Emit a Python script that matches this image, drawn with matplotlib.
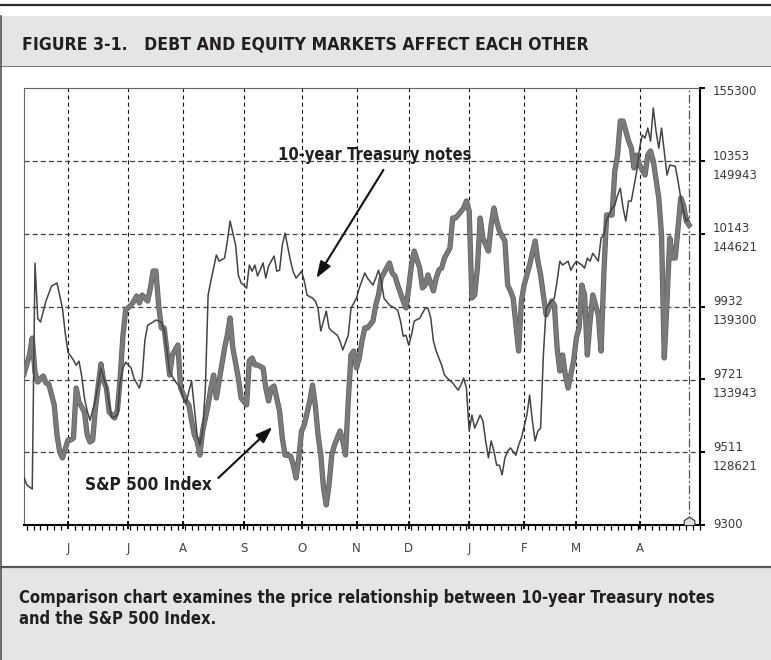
import matplotlib
matplotlib.use("Agg")
import matplotlib.pyplot as plt
import matplotlib.patheffects as pe
from matplotlib.patches import Rectangle
from matplotlib.lines import Line2D
from matplotlib.path import Path
from matplotlib.ticker import MultipleLocator

# x axis = trading days from the left edge of the chart
months = ["J", "J", "A", "S", "O", "N", "D", "J", "F", "M", "A"]
month_days = [16, 38, 58, 80, 101, 121, 140, 162, 182, 201, 224]
last_day = 242

# 10-year Treasury notes (thin line, upper number scale)
tsy_days = [0, 1, 3, 4, 5, 6, 8, 10, 12, 14, 15, 16, 18, 19, 20, 21, 22, 23, 24, 25,
            26, 28, 29, 30, 31, 32, 34, 35, 36, 37, 39, 40, 42, 43, 44, 45, 47, 48, 50, 51,
            52, 53, 55, 57, 58, 59, 60, 61, 62, 63, 64, 65, 66, 67, 68, 70, 71, 73, 74, 75,
            77, 78, 79, 80, 81, 82, 83, 84, 85, 87, 88, 89, 91, 92, 93, 94, 95, 97, 98, 99,
            101, 102, 103, 105, 106, 107, 108, 110, 111, 112, 114, 115, 116, 118, 119, 121, 122, 124, 125, 127,
            128, 129, 130, 131, 133, 135, 136, 137, 138, 139, 140, 141, 142, 144, 146, 147, 148, 149, 150, 152,
            153, 154, 156, 158, 159, 160, 161, 162, 163, 164, 166, 167, 168, 169, 170, 171, 172, 173, 174, 175,
            176, 177, 179, 180, 181, 183, 184, 185, 186, 187, 188, 189, 190, 192, 193, 194, 195, 196, 198, 199,
            200, 201, 203, 204, 205, 206, 207, 209, 210, 211, 212, 214, 215, 216, 217, 218, 219, 220, 221, 223,
            224, 225, 226, 227, 228, 229, 230, 231, 232, 234, 235, 237, 238, 239, 240, 241, 242]
tsy_vals = [9439, 9416, 9404, 10057, 9898, 9887, 9948, 9991, 10000, 9927, 9855, 9800, 9777, 9762, 9774, 9731, 9667, 9630, 9603, 9632,
            9661, 9754, 9725, 9699, 9647, 9609, 9618, 9713, 9754, 9771, 9754, 9725, 9696, 9728, 9835, 9878, 9887, 9893, 9887, 9864,
            9806, 9742, 9716, 9696, 9667, 9653, 9687, 9716, 9638, 9560, 9531, 9572, 9696, 9965, 10006, 10081, 10063, 10072, 10121, 10179,
            10110, 10023, 10000, 9994, 9985, 10052, 10034, 10052, 10020, 10058, 10014, 10049, 10078, 10034, 10037, 10110, 10144, 10063, 10032, 10014,
            10034, 10006, 9965, 9956, 9948, 9927, 9861, 9919, 9870, 9861, 9849, 9832, 9806, 9849, 9927, 9956, 9985, 10029, 10014, 9994,
            10014, 10037, 10006, 9956, 9936, 9927, 9921, 9890, 9846, 9849, 9820, 9849, 9890, 9898, 9927, 9927, 9900, 9832, 9803, 9762,
            9734, 9725, 9711, 9690, 9705, 9725, 9696, 9572, 9618, 9580, 9618, 9601, 9543, 9494, 9543, 9514, 9473, 9473, 9445, 9494,
            9514, 9523, 9502, 9531, 9552, 9618, 9676, 9601, 9543, 9572, 9580, 9792, 9927, 9948, 9956, 10006, 10063, 10052, 10063, 10037,
            10052, 10063, 10052, 10043, 10072, 10063, 10086, 10063, 10130, 10138, 10182, 10217, 10225, 10254, 10274, 10217, 10179, 10237, 10237, 10324,
            10390, 10428, 10419, 10448, 10410, 10506, 10439, 10390, 10448, 10312, 10341, 10338, 10295, 10246, 10208, 10179, 10188]

# S&P 500 Index (thick line, lower number scale)
spx_days = [0, 2, 3, 4, 5, 7, 8, 9, 11, 12, 13, 14, 16, 17, 18, 19, 20, 22, 23, 24,
            25, 26, 28, 29, 30, 31, 33, 34, 35, 36, 37, 39, 40, 41, 42, 43, 45, 46, 47, 48,
            49, 50, 51, 52, 53, 54, 56, 57, 59, 60, 61, 62, 63, 64, 65, 67, 68, 69, 70, 71,
            73, 74, 75, 76, 78, 79, 81, 82, 83, 84, 85, 87, 88, 89, 90, 91, 93, 94, 95, 97,
            98, 99, 100, 101, 102, 104, 105, 106, 107, 108, 109, 110, 111, 112, 113, 115, 116, 117, 118, 119,
            120, 121, 122, 123, 124, 125, 127, 128, 129, 130, 132, 133, 134, 135, 136, 138, 139, 140, 141, 142,
            144, 145, 146, 147, 149, 150, 151, 152, 153, 155, 156, 157, 158, 160, 161, 162, 163, 164, 165, 166,
            167, 169, 170, 171, 172, 173, 175, 176, 177, 178, 180, 181, 182, 183, 184, 186, 187, 188, 189, 190,
            192, 193, 194, 195, 196, 197, 198, 200, 201, 202, 203, 204, 205, 206, 207, 209, 210, 211, 212, 214,
            215, 216, 217, 218, 220, 221, 222, 223, 224, 226, 227, 228, 229, 231, 232, 233, 234, 235, 236, 237,
            238, 239, 240, 241, 242]
spx_vals = [134360, 135750, 136990, 134500, 133770, 134210, 133700, 133630, 132090, 129890, 128650, 128210, 129520, 129520, 129670, 133330, 132310, 131570, 129890, 129380,
            129520, 131870, 135090, 133850, 133330, 131570, 131140, 131720, 134060, 137140, 139040, 139410, 139700, 140070, 139560, 140140, 139700, 140660, 141900, 141900,
            139410, 137730, 137730, 136040, 134280, 135750, 136480, 133330, 132380, 132090, 130920, 129890, 129450, 128430, 130180, 132090, 133330, 134280, 132600, 133850,
            136260, 137210, 138460, 136260, 134060, 132600, 132090, 135310, 135530, 135020, 135020, 134800, 133330, 132380, 133330, 133480, 131650, 129670, 128430, 128350,
            127690, 126740, 128210, 130180, 130620, 132380, 133550, 132090, 129890, 128430, 126010, 124770, 126230, 128430, 129160, 130180, 129450, 128430, 132380, 135750,
            136040, 134800, 135530, 136770, 137730, 137730, 138240, 139410, 140140, 141390, 142120, 142490, 141750, 141530, 140870, 139700, 139190, 140660, 142340, 143360,
            142120, 140660, 140870, 141610, 140440, 141390, 141970, 142120, 142850, 143580, 145780, 145780, 146000, 146510, 147030, 146290, 139920, 140140, 142120, 145780,
            144320, 143360, 145270, 146510, 145560, 144830, 144100, 140870, 140440, 139920, 136040, 139700, 140870, 141610, 142340, 144100, 142630, 141610, 140140, 138680,
            139700, 139410, 136260, 134580, 135750, 134280, 133330, 135310, 136990, 137730, 140870, 140140, 135750, 138240, 140140, 138680, 136040, 141610, 146000, 146000,
            149220, 150390, 152880, 152880, 151420, 150910, 149440, 150390, 149660, 148930, 150390, 150690, 149960, 147250, 144540, 135530, 139700, 144320, 142850, 142850,
            145050, 147250, 146730, 145560, 145270]

# right-hand scale: upper numbers (Treasury), lower numbers (S&P)
tsy_ticks = [9300, 9511, 9721, 9932, 10143, 10353]
spx_ticks = [128621, 133943, 139300, 144621, 149943, 155300]
tsy_range = (9300, 10564)
spx_range = (123300, 155300)

title = "FIGURE 3-1.   DEBT AND EQUITY MARKETS AFFECT EACH OTHER"
caption = ["Comparison chart examines the price relationship between 10-year Treasury notes",
           "and the S&P 500 Index."]

bold = dict(family="DejaVu Sans", fontstretch="condensed", weight="bold", color="#231f20")

W, H = 771, 660
fig = plt.figure(figsize=(W / 100, H / 100), dpi=100)


def fx(px):
    return px / W


def fy(py):
    return 1 - py / H


# page furniture: rule, title band, caption band
fig.add_artist(Line2D([0, 1], [fy(5), fy(5)], color="#2b2b2b", lw=1.6))
fig.add_artist(Rectangle((0, fy(66)), 1, fy(16) - fy(66), facecolor="#e4e5e6", edgecolor="none"))
fig.add_artist(Line2D([0, 1], [fy(66), fy(66)], color="#808080", lw=0.8))
fig.add_artist(Rectangle((0, 0), 1, fy(567), facecolor="#e4e5e6", edgecolor="none"))
fig.add_artist(Line2D([0, 1], [fy(567), fy(567)], color="#555555", lw=1.6))
fig.add_artist(Line2D([fx(1), fx(1)], [0, fy(16)], color="#555555", lw=1.2))

fig.text(fx(22), fy(50), title, fontsize=12.6, va="baseline", **bold)
fig.text(fx(19), fy(603), caption[0], fontsize=11.9, va="baseline", **bold)
fig.text(fx(19), fy(624), caption[1], fontsize=11.9, va="baseline", **bold)

# chart
ax = fig.add_axes([fx(24), fy(525), fx(700) - fx(24), fy(88) - fy(525)])
ax.set_xlim(0, 246)
ax.set_ylim(*spx_range)
ax2 = ax.twinx()
ax2.set_ylim(*tsy_range)

ax.set_yticks(spx_ticks[:-1])
ax.tick_params(axis="y", left=False, labelleft=False)
ax.grid(axis="y", color="#444444", lw=0.9, linestyle=(0, (4, 2.5)))

ax.set_xticks(month_days)
ax.set_xticklabels(months, family="DejaVu Sans", fontsize=8.5, color="#444444")
ax.xaxis.set_minor_locator(MultipleLocator(2.5, offset=1))
ax.tick_params(axis="x", which="major", direction="inout", length=6, width=1.3, color="black", pad=9)
ax.tick_params(axis="x", which="minor", direction="out", length=3.5, width=0.9, color="black")
ax.grid(axis="x", color="#111111", lw=0.8, linestyle=(0, (3.5, 3)))
ax.axvline(last_day, color="#555555", lw=0.9, linestyle=(0, (7, 2, 1.5, 2)))

for side in ["top", "left"]:
    ax.spines[side].set_color("#666666")
    ax.spines[side].set_linewidth(0.8)
for side in ["right", "bottom"]:
    ax.spines[side].set_color("black")
    ax.spines[side].set_linewidth(1.5)
for side in ax2.spines:
    ax2.spines[side].set_visible(False)

# series
ax.plot(spx_days, spx_vals, color="#7a7a7a", lw=2.8, solid_joinstyle="round",
        path_effects=[pe.Stroke(linewidth=3.8, foreground="#5e5e5e"), pe.Normal()], zorder=3)
ax2.plot(tsy_days, tsy_vals, color="#444444", lw=1.1, zorder=4)

# current-day marker on the time axis
house = Path([(-0.5, 0), (0.5, 0), (0.5, 0.45), (0, 0.78), (-0.5, 0.45), (-0.5, 0)],
             [Path.MOVETO, Path.LINETO, Path.LINETO, Path.LINETO, Path.LINETO, Path.CLOSEPOLY])
ax.plot([last_day], [spx_range[0]], marker=house, ms=12, mfc="#dcdcdc", mec="#333333", mew=0.8,
        clip_on=False, zorder=6)

# right-hand scale
ax2.set_yticks(tsy_ticks + [tsy_range[1]])
ax2.tick_params(axis="y", right=True, labelright=False, direction="out", length=3.6, width=1.4, color="black")
lab = dict(fontsize=8.5, color="#3a3a3a", family="DejaVu Sans", ha="left", va="baseline",
           textcoords="offset points", annotation_clip=False)
ax2.annotate(str(tsy_ticks[0]), xy=(1, tsy_ticks[0]), xycoords=("axes fraction", "data"), xytext=(9.3, -2.4), **lab)
for t in tsy_ticks[1:]:
    ax2.annotate(str(t), xy=(1, t), xycoords=("axes fraction", "data"), xytext=(9.3, 1.0), **lab)
for s in spx_ticks[:-1]:
    ax.annotate(str(s), xy=(1, s), xycoords=("axes fraction", "data"), xytext=(9.3, -12.7), **lab)
ax.annotate(str(spx_ticks[-1]), xy=(1, spx_ticks[-1]), xycoords=("axes fraction", "data"), xytext=(9.3, -5.0), **lab)

# call-outs
ax2.text(127.7, 10355, "10-year Treasury notes", fontsize=11.9, ha="center", va="baseline", zorder=7, **bold)
ax2.annotate("", xy=(106.4, 10014), xytext=(130.8, 10327),
             arrowprops=dict(arrowstyle="-|>,head_length=1.0,head_width=0.35", color="#111111",
                             lw=1.5, shrinkA=0, shrinkB=0), zorder=7)
ax.text(45.4, 125863, "S&P 500 Index", fontsize=12.3, ha="center", va="baseline", zorder=7, **bold)
ax.annotate("", xy=(90.4, 130476), xytext=(70.7, 126742),
            arrowprops=dict(arrowstyle="-|>,head_length=1.0,head_width=0.35", color="#111111",
                            lw=1.5, shrinkA=0, shrinkB=0), zorder=7)

fig.savefig("out.png", dpi=100)
